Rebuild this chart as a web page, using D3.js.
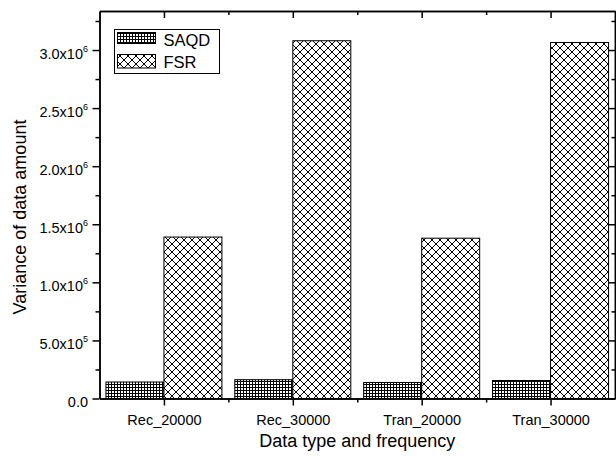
<!DOCTYPE html>
<html>
<head>
<meta charset="utf-8">
<script src="https://cdn.jsdelivr.net/npm/d3@7"></script>
<style>
  html, body { margin: 0; padding: 0; background: #fff; }
  svg { display: block; }
  text { font-family: "Liberation Sans", Arial, sans-serif; fill: #000; }
</style>
</head>
<body>
<svg id="chart" width="616" height="456"></svg>
<script>
// ---- data ----
const categories = ["Rec_20000", "Rec_30000", "Tran_20000", "Tran_30000"];
const seriesNames = ["SAQD", "FSR"];
const saqdValues = [1.42e5, 1.62e5, 1.38e5, 1.55e5];
const fsrValues = [1.39e6, 3.08e6, 1.38e6, 3.065e6];
const yMajorTicks = [0, 0.5e6, 1.0e6, 1.5e6, 2.0e6, 2.5e6, 3.0e6];
const yMinorTicks = [0.25e6, 0.75e6, 1.25e6, 1.75e6, 2.25e6, 2.75e6, 3.25e6];
const yTickLabels = [["0.0", ""], ["5.0x10", "5"], ["1.0x10", "6"], ["1.5x10", "6"], ["2.0x10", "6"], ["2.5x10", "6"], ["3.0x10", "6"]];
const xTitle = "Data type and frequency";
const yTitle = "Variance of data amount";

// ---- layout ----
const pLeft = 99.5, pRight = 615, pTop = 11, pBottom = 398.5;
const svg = d3.select("#chart");

// patterns
const defs = svg.append("defs");
const grid = defs.append("pattern").attr("id", "pat-grid")
  .attr("patternUnits", "userSpaceOnUse").attr("width", 3).attr("height", 3);
grid.append("rect").attr("width", 3).attr("height", 3).attr("fill", "#fff");
grid.append("path").attr("d", "M0.5,0 V3 M0,0.5 H3").attr("stroke", "#000").attr("stroke-width", 1).attr("fill", "none");

const cross = defs.append("pattern").attr("id", "pat-cross")
  .attr("patternUnits", "userSpaceOnUse").attr("width", 8).attr("height", 8);
cross.append("rect").attr("width", 8).attr("height", 8).attr("fill", "#fff");
cross.append("path")
  .attr("d", "M-2,-2 L10,10 M-2,6 L2,10 M6,-2 L10,2 M10,-2 L-2,10 M-2,2 L2,-2 M6,10 L10,6")
  .attr("stroke", "#000").attr("stroke-width", 1).attr("fill", "none");

const fills = { SAQD: "url(#pat-grid)", FSR: "url(#pat-cross)" };

// scales
const y = d3.scaleLinear().domain([0, 3.336e6]).range([pBottom, pTop]);
const x = d3.scaleBand().domain(categories).range([pLeft, pRight]).paddingInner(0).paddingOuter(0);
const xs = d3.scaleBand().domain(seriesNames).range([0, x.bandwidth()]).paddingInner(0).paddingOuter(0.111);
const xl = d3.scaleLinear().domain([0.5, categories.length + 0.5]).range([pLeft, pRight]);

// bars
const rows = categories.map((c, i) => ({ cat: c, vals: [
  { s: "SAQD", v: saqdValues[i] }, { s: "FSR", v: fsrValues[i] } ] }));
const g = svg.append("g");
rows.forEach(r => {
  r.vals.forEach(d => {
    g.append("rect")
      .attr("x", x(r.cat) + xs(d.s))
      .attr("y", y(d.v))
      .attr("width", xs.bandwidth())
      .attr("height", y(0) - y(d.v))
      .attr("fill", fills[d.s])
      .attr("stroke", "#000").attr("stroke-width", 1);
  });
});

// axes
const fontSize = "14.5px";
function styleAxis(sel) {
  sel.select(".domain").attr("stroke", "#000").attr("stroke-width", 1.5);
  sel.selectAll(".tick line").attr("stroke", "#000").attr("stroke-width", 1.5);
}
// left
const yAxisMajor = svg.append("g").attr("transform", `translate(${pLeft},0)`)
  .call(d3.axisLeft(y).tickValues(yMajorTicks).tickSizeInner(7).tickSizeOuter(0).tickPadding(4).tickFormat(""));
styleAxis(yAxisMajor);
yAxisMajor.selectAll(".tick text").remove();
yAxisMajor.selectAll(".tick").each(function(d, i) {
  const t = d3.select(this).append("text")
    .attr("x", -11.5).attr("y", 0).attr("dy", "0.55em")
    .attr("text-anchor", "end").style("font-size", fontSize);
  t.append("tspan").text(yTickLabels[i][0]);
  if (yTickLabels[i][1]) {
    t.append("tspan").attr("dy", "-0.75em").style("font-size", "9px").text(yTickLabels[i][1]);
  }
});
const yAxisMinor = svg.append("g").attr("transform", `translate(${pLeft},0)`)
  .call(d3.axisLeft(y).tickValues(yMinorTicks).tickSizeInner(4).tickSizeOuter(0).tickFormat(""));
styleAxis(yAxisMinor);

// right
const yRight = svg.append("g").attr("transform", `translate(${pRight},0)`)
  .call(d3.axisRight(y).tickValues(yMajorTicks).tickSizeInner(-6).tickSizeOuter(0).tickFormat(""));
styleAxis(yRight);
const yRightMinor = svg.append("g").attr("transform", `translate(${pRight},0)`)
  .call(d3.axisRight(y).tickValues(yMinorTicks).tickSizeInner(-3.5).tickSizeOuter(0).tickFormat(""));
styleAxis(yRightMinor);

// bottom
const xMajor = categories.map((c, i) => i + 1);
const xMinor = categories.slice(1).map((c, i) => i + 1.5);
const xAxis = svg.append("g").attr("transform", `translate(0,${pBottom})`)
  .call(d3.axisBottom(xl).tickValues(xMajor).tickSizeInner(7).tickSizeOuter(0).tickPadding(9)
    .tickFormat(d => categories[d - 1]));
styleAxis(xAxis);
xAxis.attr("font-family", null).attr("font-size", null);
xAxis.selectAll(".tick text").style("font-size", fontSize).attr("fill", "#000");
const xAxisMinor = svg.append("g").attr("transform", `translate(0,${pBottom})`)
  .call(d3.axisBottom(xl).tickValues(xMinor).tickSizeInner(4).tickSizeOuter(0).tickFormat(""));
styleAxis(xAxisMinor);

// top
const xTop = svg.append("g").attr("transform", `translate(0,${pTop})`)
  .call(d3.axisTop(xl).tickValues(xMajor).tickSizeInner(-7).tickSizeOuter(0).tickFormat(""));
styleAxis(xTop);
const xTopMinor = svg.append("g").attr("transform", `translate(0,${pTop})`)
  .call(d3.axisTop(xl).tickValues(xMinor).tickSizeInner(-4).tickSizeOuter(0).tickFormat(""));
styleAxis(xTopMinor);

yAxisMajor.attr("font-family", null).attr("font-size", null);

// titles
svg.append("text").attr("x", (pLeft + pRight) / 2).attr("y", 447)
  .attr("text-anchor", "middle").style("font-size", "18px").text(xTitle);
svg.append("text").attr("transform", "translate(26,217) rotate(-90)")
  .attr("text-anchor", "middle").style("font-size", "18px").text(yTitle);

// legend
const lg = svg.append("g");
lg.append("rect").attr("x", 114.5).attr("y", 29.5).attr("width", 105).attr("height", 44)
  .attr("fill", "#fff").attr("stroke", "#000").attr("stroke-width", 1);
const legendRows = [
  { s: "SAQD", sy: 32.5, sh: 11, ty: 46 },
  { s: "FSR", sy: 54.5, sh: 13.5, ty: 68 }
];
legendRows.forEach(r => {
  lg.append("rect").attr("x", 117.5).attr("y", r.sy).attr("width", 38).attr("height", r.sh)
    .attr("fill", fills[r.s]).attr("stroke", "#000").attr("stroke-width", 1);
  lg.append("text").attr("x", 163.5).attr("y", r.ty).style("font-size", "16.5px").text(r.s);
});
</script>
</body>
</html>
